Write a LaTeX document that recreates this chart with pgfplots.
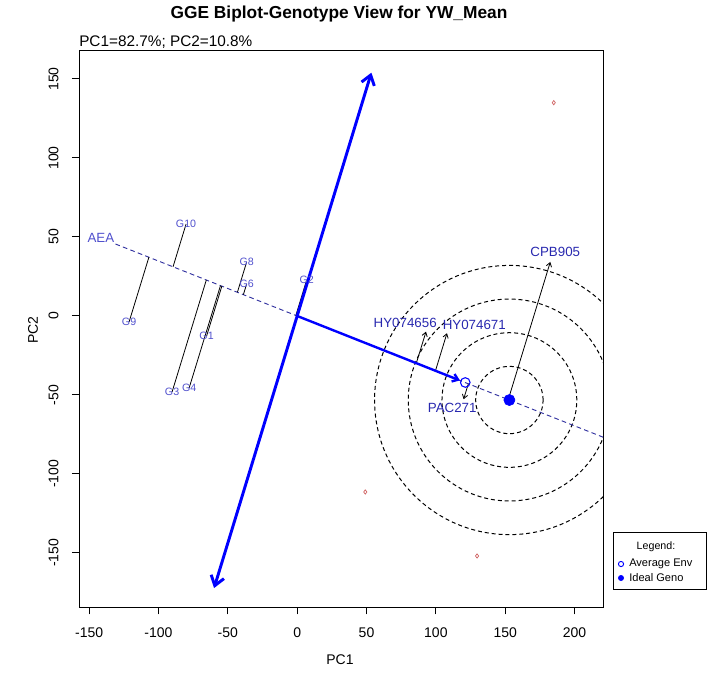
\documentclass[border=0pt]{standalone}
\usepackage{pgfplots}
\pgfplotsset{compat=1.18}
\usepackage{fontspec}
\setmainfont{Liberation Sans}
\usetikzlibrary{arrows.meta}
\definecolor{gblue}{RGB}{80,80,205}
\definecolor{rblue}{RGB}{40,40,175}
\definecolor{aea}{RGB}{50,50,160}
\definecolor{envred}{RGB}{205,90,90}
\begin{document}
\begin{tikzpicture}
\begin{scope}[x=0.75pt,y=-0.75pt]
\useasboundingbox (0,0) rectangle (709,682);
\node[font=\fontsize{13}{15}\selectfont\bfseries] at (339,14) {GGE Biplot-Genotype View for YW\_Mean};
\node[font=\fontsize{11.5}{13}\selectfont, anchor=west, inner sep=0pt] at (79,42) {PC1=82.7\%; PC2=10.8\%};
\node[font=\fontsize{10.5}{12}\selectfont] at (340,660) {PC1};
\node[font=\fontsize{10.5}{12}\selectfont, rotate=90] at (33,330) {PC2};
\draw[line width=0.6pt] (613,532) rectangle (706,589);
\node[font=\fontsize{8}{9}\selectfont] at (656,547) {Legend:};
\draw[blue, line width=0.7pt] (621,564) circle (2.6);
\node[font=\fontsize{8.3}{9}\selectfont, anchor=west, inner sep=0pt] at (629,564) {Average Env};
\fill[blue] (621,578) circle (3);
\node[font=\fontsize{8.3}{9}\selectfont, anchor=west, inner sep=0pt] at (629,578) {Ideal Geno};
\end{scope}
\begin{axis}[
  at={(59.25pt,-455.475pt)}, anchor=south west,
  scale only axis, width=393pt, height=417.45pt,
  xmin=-157.3, xmax=220.5, ymin=-184.4, ymax=167.9,
  xtick={-150,-100,-50,0,50,100,150,200},
  ytick={-150,-100,-50,0,50,100,150},
  xtick pos=bottom, ytick pos=left,
  tick align=outside, major tick length=5.25pt,
  every tick/.style={black, line width=0.75pt},
  axis line style={line width=0.75pt},
  /pgf/number format/assume math mode=true,
  ticklabel style={font=\fontsize{10.5}{12}\selectfont},
  xticklabel shift=6.5pt, yticklabel shift=6.5pt,
  yticklabel style={rotate=90, anchor=south},
  clip=true,
]
% concentric circles around ideal genotype
\draw[black, line width=0.75pt, dash pattern=on 3pt off 2.2pt] (axis cs:153,-53.2) ellipse [x radius=24.3, y radius=21.3];
\draw[black, line width=0.75pt, dash pattern=on 3pt off 2.2pt] (axis cs:153,-53.2) ellipse [x radius=48.6, y radius=42.6];
\draw[black, line width=0.75pt, dash pattern=on 3pt off 2.2pt] (axis cs:153,-53.2) ellipse [x radius=72.9, y radius=63.9];
\draw[black, line width=0.75pt, dash pattern=on 3pt off 2.2pt] (axis cs:153,-53.2) ellipse [x radius=97.2, y radius=85.2];
% AEA line
\addplot[aea, line width=0.7pt, dash pattern=on 3.5pt off 2.5pt] coordinates {(-131,45.55) (230,-80)};
% projection lines
\addplot[black, line width=0.6pt] coordinates {(-80.1,58.2) (-89.5,31.1)};
\addplot[black, line width=0.6pt] coordinates {(-121.2,-3.8) (-106.9,37.2)};
\addplot[black, line width=0.6pt] coordinates {(-90.2,-48.1) (-65.5,22.8)};
\addplot[black, line width=0.6pt] coordinates {(-77.9,-45.6) (-55.3,19.2)};
\addplot[black, line width=0.6pt] coordinates {(-65.3,-12.7) (-54.3,18.9)};
\addplot[black, line width=0.6pt] coordinates {(-36.4,34.2) (-43.1,15.0)};
\addplot[black, line width=0.6pt] coordinates {(-36.4,20.3) (-38.8,13.5)};
\addplot[black, line width=0.6pt] coordinates {(6.85,22.8) (-0.96,0.33)};
\addplot[black, line width=0.6pt, -{Straight Barb[length=3pt,width=4pt]}] coordinates {(85.9,-29.9) (92.9,-9.9)};
\addplot[black, line width=0.6pt, -{Straight Barb[length=3pt,width=4pt]}] coordinates {(99.7,-34.7) (108.0,-10.9)};
\addplot[black, line width=0.6pt, -{Straight Barb[length=3pt,width=4pt]}] coordinates {(152.2,-52.9) (182.5,34.2)};
\addplot[black, line width=0.6pt, -{Straight Barb[length=3pt,width=4pt]}] coordinates {(123.4,-42.9) (120.0,-52.7)};
% blue axes
\addplot[blue, line width=2.2pt, -{Straight Barb[length=7pt,width=10pt]}] coordinates {(0,0) (53.5,154)};
\addplot[blue, line width=2.2pt, -{Straight Barb[length=7pt,width=10pt]}] coordinates {(0,0) (-59.9,-172.2)};
\addplot[blue, line width=1.8pt, -{Straight Barb[length=4pt,width=6pt]}] coordinates {(0,0) (117.3,-40.8)};
% markers
\addplot[blue, only marks, mark=o, mark size=3.6pt, line width=0.8pt] coordinates {(121.2,-42.1)};
\addplot[blue, only marks, mark=*, mark size=4.2pt] coordinates {(153,-53.2)};
\addplot[envred, only marks, mark=diamond, mark size=1.6pt, line width=0.5pt] coordinates {(185,135) (49.1,-111.4) (129.7,-151.9)};
% labels
\node[gblue, font=\fontsize{8}{9}\selectfont] at (axis cs:-80.1,58.2) {G10};
\node[gblue, font=\fontsize{8}{9}\selectfont] at (axis cs:-121.2,-3.8) {G9};
\node[gblue, font=\fontsize{8}{9}\selectfont] at (axis cs:-90.2,-48.1) {G3};
\node[gblue, font=\fontsize{8}{9}\selectfont] at (axis cs:-77.9,-45.6) {G4};
\node[gblue, font=\fontsize{8}{9}\selectfont] at (axis cs:-65.3,-12.7) {G1};
\node[gblue, font=\fontsize{8}{9}\selectfont] at (axis cs:-36.4,34.2) {G8};
\node[gblue, font=\fontsize{8}{9}\selectfont] at (axis cs:-36.4,20.3) {G6};
\node[gblue, font=\fontsize{8}{9}\selectfont] at (axis cs:6.85,22.8) {G2};
\node[gblue, font=\fontsize{10}{12}\selectfont, anchor=west, inner sep=0pt] at (axis cs:-151.3,49.4) {AEA};
\node[rblue, font=\fontsize{10}{12}\selectfont] at (axis cs:77.9,-4.4) {HY074656};
\node[rblue, font=\fontsize{10}{12}\selectfont] at (axis cs:127.7,-5.7) {HY074671};
\node[rblue, font=\fontsize{10}{12}\selectfont] at (axis cs:186.1,40.5) {CPB905};
\node[rblue, font=\fontsize{10}{12}\selectfont] at (axis cs:111.8,-58.2) {PAC271};
\end{axis}
\end{tikzpicture}
\end{document}
